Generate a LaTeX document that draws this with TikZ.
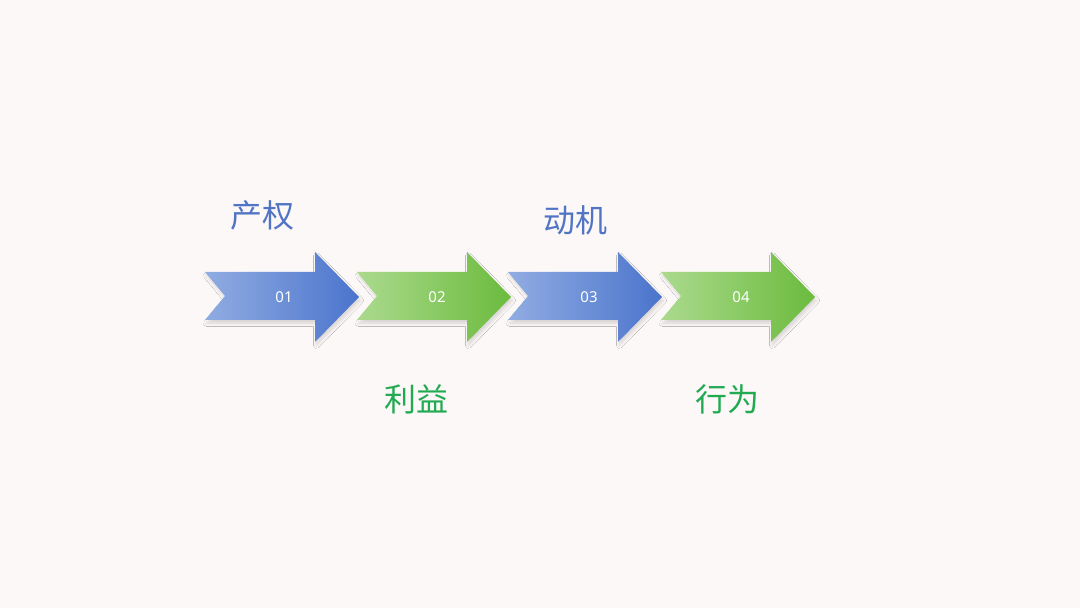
\documentclass[tikz,border=0pt]{standalone}
\usepackage{fontspec}
\setmainfont{Noto Sans}
\newfontfamily\cjk{Noto Sans CJK SC}
\usetikzlibrary{shadows.blur}
\definecolor{bgc}{HTML}{FCF8F7}
\definecolor{bluetxt}{HTML}{5174C4}
\definecolor{greentxt}{HTML}{22AA52}
\definecolor{blueL}{HTML}{91ACE2}
\definecolor{blueR}{HTML}{4A74CC}
\definecolor{greenL}{HTML}{ABDA8E}
\definecolor{greenR}{HTML}{6BBB3D}
\tikzset{
  arrowshape/.style={blur shadow={shadow xshift=1.5pt,shadow yshift=-3.5pt,shadow blur radius=3pt,shadow blur steps=8,shadow opacity=14}},
  bluearrow/.style={arrowshape,left color=blueL,right color=blueR},
  greenarrow/.style={arrowshape,left color=greenL,right color=greenR},
  numlabel/.style={text=white,font=\fontsize{15pt}{17pt}\selectfont},
  cjklabel/.style={font=\cjk\fontsize{32pt}{36pt}\selectfont},
}
\newcommand{\stepshape}[2]{%
  \path[#2] (#1,336) -- ++(110,0) -- ++(0,20) -- ++(44,-45) -- ++(-44,-45) -- ++(0,22) -- ++(-110,0) -- ++(20,24) -- cycle;}
\begin{document}
\begin{tikzpicture}[x=1pt,y=1pt]
\fill[bgc] (0,0) rectangle (1080,608);
\useasboundingbox (0,0) rectangle (1080,608);
\stepshape{205}{bluearrow}
\stepshape{357}{greenarrow}
\stepshape{508}{bluearrow}
\stepshape{661}{greenarrow}
\node[numlabel] (n1) at (284,311) {01};
\node[numlabel] (n2) at (437,311) {02};
\node[numlabel] (n3) at (589,311) {03};
\node[numlabel] (n4) at (741,311) {04};
\node[cjklabel,text=bluetxt] (t1) at (262,393) {产权};
\node[cjklabel,text=bluetxt] (t3) at (575,388) {动机};
\node[cjklabel,text=greentxt] (t2) at (416,209) {利益};
\node[cjklabel,text=greentxt] (t4) at (727,209) {行为};
\end{tikzpicture}
\end{document}
